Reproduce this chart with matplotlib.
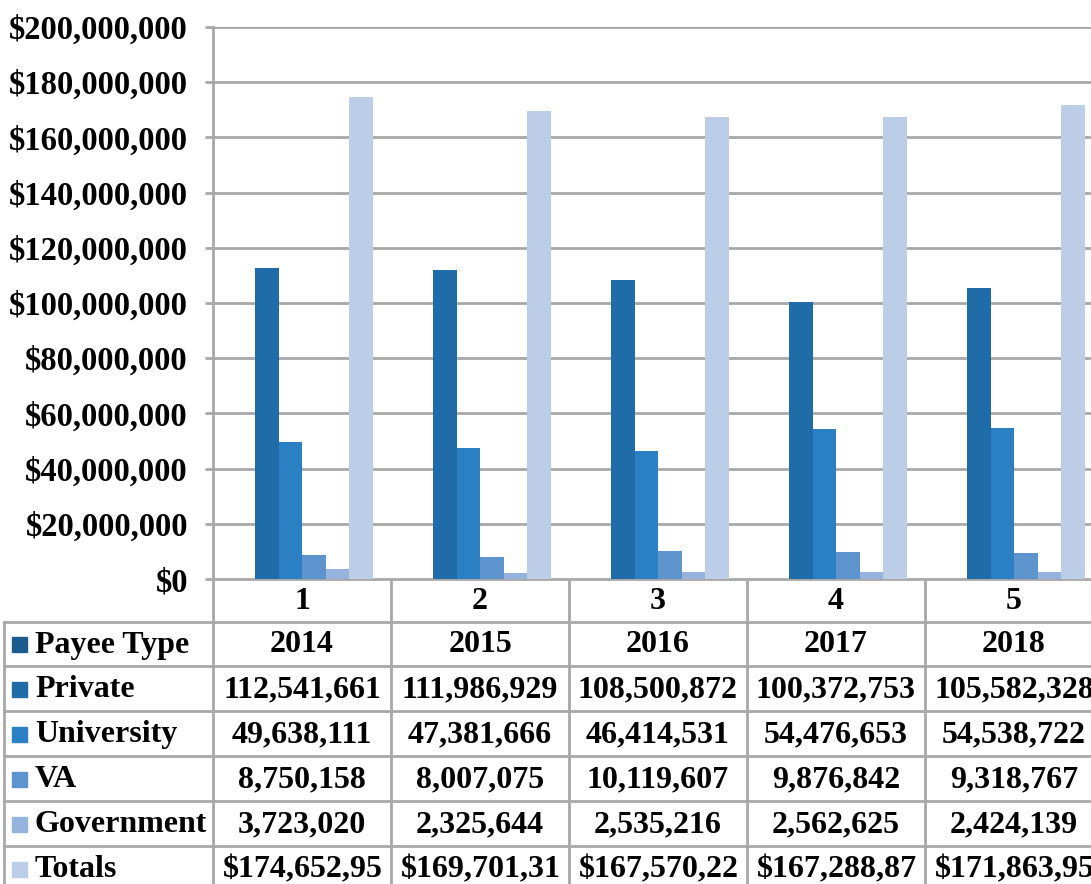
import matplotlib.pyplot as plt
from matplotlib.patches import Rectangle
from matplotlib.ticker import FuncFormatter

# data
categories = ["1", "2", "3", "4", "5"]
years = [2014, 2015, 2016, 2017, 2018]
private = [112541661, 111986929, 108500872, 100372753, 105582328]
university = [49638111, 47381666, 46414531, 54476653, 54538722]
va = [8750158, 8007075, 10119607, 9876842, 9318767]
government = [3723020, 2325644, 2535216, 2562625, 2424139]
totals = [174652950, 169701314, 167570226, 167288873, 171863956]

series_names = ["Payee Type", "Private", "University", "VA", "Government", "Totals"]
series_vals = [years, private, university, va, government, totals]
colors = ["#1c5b8e", "#1f6ca8", "#2a80c2", "#5e94cd", "#95b3dc", "#bccde7"]

W, H = 1091, 884
plt.rcParams['font.family'] = ['Liberation Serif', 'DejaVu Serif']
plt.rcParams['font.weight'] = 'bold'
FS = 23.5      # axis labels
FS_T = 23      # table text
grid_c = "#a8a8a8"
PT = 72 / 100  # points per pixel

fig = plt.figure(figsize=(W / 100, H / 100), dpi=100)

# plot area in pixels (runs past the right edge, like the cropped original)
x0, x1 = 213, 1103
y_top, y_bot = 27, 579
ax = fig.add_axes([x0 / W, 1 - y_bot / H, (x1 - x0) / W, (y_bot - y_top) / H])
ax.set_xlim(-0.5, 4.5)
ax.set_ylim(0, 200000000)

bw = 23.5 / 178
for k, (name, vals) in enumerate(zip(series_names, series_vals)):
    xs = [i + (k - 3) * bw for i in range(len(categories))]
    ax.bar(xs, vals, width=bw, align='edge', color=colors[k], zorder=2)

ax.set_yticks(range(0, 200000001, 20000000))
ax.yaxis.set_major_formatter(FuncFormatter(lambda v, p: "${:,.0f}".format(v)))
ax.yaxis.grid(True, color=grid_c, linewidth=2, zorder=0)
ax.tick_params(axis='y', length=8 * PT, width=2, color=grid_c, pad=17 * PT, labelsize=FS)
ax.set_xticks([])
for s in ["top", "right", "bottom"]:
    ax.spines[s].set_visible(False)
ax.spines["left"].set_color(grid_c)
ax.spines["left"].set_linewidth(2)
ax.set_axisbelow(True)

# data table drawn in pixel coordinates
tx = fig.add_axes([0, 0, 1, 1], zorder=-1)
tx.set_xlim(0, W)
tx.set_ylim(H, 0)
tx.axis('off')

col_w = 178
col_edges = [x0 + i * col_w for i in range(len(categories) + 1)]
row_edges = [579, 622, 666, 711, 756, 801, 846, 891]
left = 4

# horizontal lines
tx.plot([x0, W], [row_edges[0]] * 2, color=grid_c, lw=2)
for y in row_edges[1:]:
    tx.plot([left, W], [y, y], color=grid_c, lw=2)
# vertical lines
for x in col_edges:
    tx.plot([x, x], [row_edges[0], H], color=grid_c, lw=2)
tx.plot([left, left], [row_edges[1], H], color=grid_c, lw=2)

def ymid(r):
    return (row_edges[r] + row_edges[r + 1]) / 2

for i, c in enumerate(categories):
    tx.text(col_edges[i] + col_w / 2, ymid(0) + 1, c, ha='center', va='center',
            fontsize=FS_T, fontweight='bold')

for k, (name, vals) in enumerate(zip(series_names, series_vals)):
    r = k + 1
    yc = ymid(r)
    tx.add_patch(Rectangle((12, yc - 7), 15, 15, color=colors[k]))
    tx.text(35, yc + 1, name, ha='left', va='center', fontsize=FS_T, fontweight='bold')
    for i, v in enumerate(vals):
        cx = col_edges[i] + col_w / 2
        if name == "Payee Type":
            s = str(v)
        elif name == "Totals":
            # totals don't fit the cell, the original cuts the last digit off
            s = "${:,}".format(v)[:11]
            tx.text(col_edges[i] + 10, yc + 1, s, ha='left', va='center',
                    fontsize=FS_T, fontweight='bold')
            continue
        else:
            s = "{:,}".format(v)
        tx.text(cx, yc + 1, s, ha='center', va='center', fontsize=FS_T,
                fontweight='bold')

fig.savefig("out.png", dpi=100)
